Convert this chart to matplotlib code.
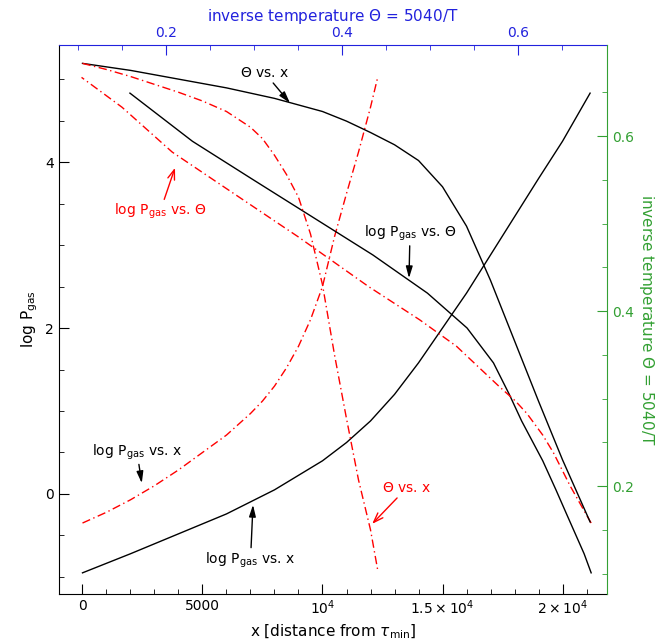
import matplotlib
matplotlib.use('Agg')
import matplotlib.pyplot as plt
import numpy as np

# model 1 (black, solid)
x_blk = [0, 2000, 4000, 6000, 8000, 10000, 11000, 12000, 13000, 14000,
         15000, 16000, 17000, 18000, 19000, 20000, 21150]
logp_blk = [-0.95, -0.72, -0.48, -0.24, 0.05, 0.40, 0.62, 0.88, 1.20, 1.58,
            2.00, 2.42, 2.88, 3.34, 3.80, 4.25, 4.83]
theta_blk = [0.683, 0.675, 0.665, 0.655, 0.643, 0.628, 0.617, 0.604, 0.590, 0.572,
             0.542, 0.497, 0.435, 0.366, 0.297, 0.230, 0.159]

# model 2 (red, dash-dot)
x_red = [0, 1000, 2000, 3000, 4000, 5000, 6000, 7000, 7500, 8000, 8500,
         9000, 9500, 10000, 10500, 11000, 11500, 12000, 12300]
logp_red = [-0.35, -0.22, -0.07, 0.10, 0.29, 0.50, 0.71, 0.97, 1.12, 1.30, 1.52,
            1.78, 2.10, 2.50, 3.10, 3.62, 4.12, 4.66, 5.02]
theta_red = [0.683, 0.676, 0.668, 0.659, 0.650, 0.640, 0.628, 0.610, 0.597, 0.578, 0.556,
             0.53, 0.488, 0.43, 0.35, 0.277, 0.207, 0.150, 0.104]

blue = '#2222dd'
green = '#33a033'
red = '#ff0000'
dd = (6, 2.5, 1, 2.5)

fig = plt.figure(figsize=(6.68, 6.41), dpi=100)
ax = fig.add_axes([59/668, 1-594/641, 548/668, 549/641])
ax_top = ax.twiny()
ax_rt = ax.twinx()

# log Pgas vs x
ax.plot(x_blk, logp_blk, color='k', lw=1)
ax.plot(x_red, logp_red, color=red, lw=1, dashes=dd)
# Theta vs x
ax_rt.plot(x_blk, theta_blk, color='k', lw=1)
ax_rt.plot(x_red, theta_red, color=red, lw=1, dashes=dd)
# log Pgas vs Theta
ax_top.plot(theta_blk, logp_blk, color='k', lw=1)
ax_top.plot(theta_red, logp_red, color=red, lw=1, dashes=dd)

ax.set_xlim(-979, 21854)
ax.set_ylim(-1.205, 5.41)
ax_top.set_xlim(0.0784, 0.701)
ax_rt.set_ylim(0.0766, 0.704)

ax.set_xticks([0, 5000, 10000, 15000, 20000])
ax.set_xticklabels(['0', '5000', r'$10^4$', r'$1.5\times10^4$', r'$2\times10^4$'])
ax.set_xticks(np.arange(0, 21001, 1000), minor=True)
ax.set_yticks([0, 2, 4])
ax.set_yticks(np.arange(-1, 5.01, 0.5), minor=True)
ax_top.set_xticks([0.2, 0.4, 0.6])
ax_top.set_xticks(np.arange(0.1, 0.70, 0.05), minor=True)
ax_rt.set_yticks([0.2, 0.4, 0.6])
ax_rt.set_yticks(np.arange(0.1, 0.70, 0.05), minor=True)

for a in (ax, ax_top, ax_rt):
    a.tick_params(which='major', direction='in', length=7, labelsize=10)
    a.tick_params(which='minor', direction='in', length=3.5)

ax.tick_params(top=False, right=False)
ax_top.tick_params(axis='x', colors=blue, which='both')
ax_rt.tick_params(axis='y', colors=green, which='both')

for a in (ax, ax_top, ax_rt):
    for s in a.spines.values():
        s.set_visible(False)
ax.spines['left'].set_visible(True)
ax.spines['bottom'].set_visible(True)
ax_top.spines['top'].set_visible(True)
ax_top.spines['top'].set_color(blue)
ax_rt.spines['right'].set_visible(True)
ax_rt.spines['right'].set_color(green)

ax.set_xlabel(r'x [distance from $\tau_{\rm min}$]', fontsize=11)
ax.set_ylabel(r'log P$_{\rm gas}$', fontsize=11)
ax_top.set_xlabel(r'inverse temperature $\Theta$ = 5040/T', color=blue, fontsize=11)
ax_rt.set_ylabel(r'inverse temperature $\Theta$ = 5040/T', color=green, fontsize=11,
                 rotation=270, labelpad=16)

arr_k = dict(arrowstyle='-|>,head_length=0.7,head_width=0.2', color='k', lw=1,
             shrinkA=0, shrinkB=0)
arr_r = dict(arrowstyle='->,head_length=0.7,head_width=0.25', color=red, lw=1,
             shrinkA=0, shrinkB=0)

ax.annotate(r'$\Theta$ vs. x', xy=(8646, 4.71), xytext=(7604, 5.07),
            ha='center', va='center', fontsize=10, arrowprops=arr_k)
ax.annotate(r'log P$_{\rm gas}$ vs. $\Theta$', xy=(13604, 2.60), xytext=(13646, 3.14),
            ha='center', va='center', fontsize=10, arrowprops=arr_k)
ax.annotate(r'log P$_{\rm gas}$ vs. $\Theta$', xy=(3854, 3.93), xytext=(3229, 3.40),
            ha='center', va='center', fontsize=10, color=red, arrowprops=arr_r)
ax.annotate(r'log P$_{\rm gas}$ vs. x', xy=(2470, 0.13), xytext=(2271, 0.39),
            ha='center', va='bottom', fontsize=10, arrowprops=arr_k)
ax.annotate(r'log P$_{\rm gas}$ vs. x', xy=(7104, -0.13), xytext=(7000, -0.68),
            ha='center', va='top', fontsize=10, arrowprops=arr_k)
ax.annotate(r'$\Theta$ vs. x', xy=(12070, -0.36), xytext=(13500, 0.07),
            ha='center', va='center', fontsize=10, color=red, arrowprops=arr_r)

fig.savefig('out.png', dpi=100)
